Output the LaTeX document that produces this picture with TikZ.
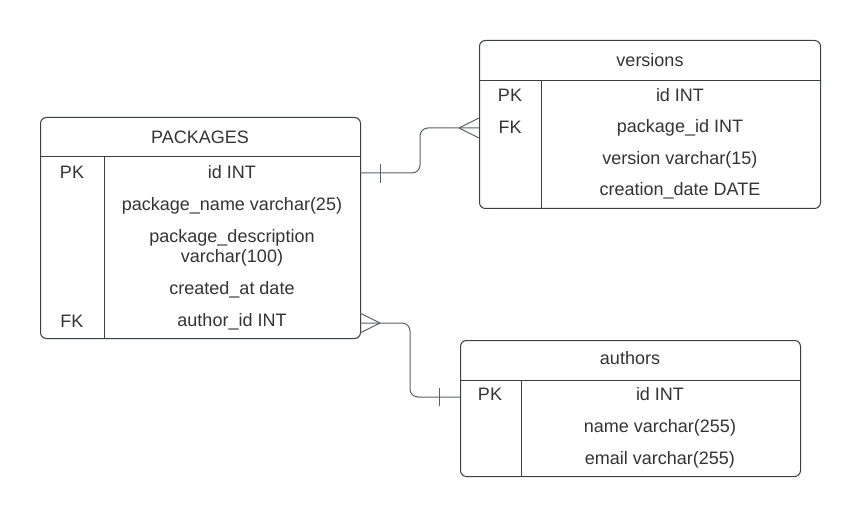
\documentclass[tikz,border=0pt]{standalone}
\usepackage{fontspec}
\setmainfont{Liberation Sans}
\begin{document}
\begin{tikzpicture}[x=1pt,y=-1pt,
  tbl/.style={draw=linec, line width=1pt, rounded corners=6pt},
  sep/.style={draw=linec, line width=1pt},
  txt/.style={text=textc, font=\fontsize{18}{20}\selectfont, inner sep=0pt, align=center, yshift=-1.5pt},
  conn/.style={draw=connc, line width=1pt, rounded corners=8pt},
  tickmark/.style={draw=connc, line width=1pt}]
\definecolor{linec}{HTML}{3A3F48}
\definecolor{textc}{HTML}{333333}
\definecolor{connc}{HTML}{5A6069}
\useasboundingbox (0,0) rectangle (860,516);
% PACKAGES
\node[tbl, minimum width=320pt, minimum height=221pt, anchor=north west] (pk) at (40,117) {};
\draw[sep] (40,157) -- (360,157);
\draw[sep] (104,157) -- (104,338);
\node[txt] (pkh) at (200,136) {PACKAGES};
\node[txt] (pk1a) at (72,171) {PK};
\node[txt] (pk1b) at (232,171) {id INT};
\node[txt] (pk2b) at (232,204) {package\_name varchar(25)};
\node[txt] (pk3b) at (232,246) {package\_description\\varchar(100)};
\node[txt] (pk4b) at (232,288) {created\_at date};
\node[txt] (pk5a) at (72,320) {FK};
\node[txt] (pk5b) at (232,320) {author\_id INT};
% versions
\node[tbl, minimum width=341pt, minimum height=168pt, anchor=north west] (vr) at (479,40) {};
\draw[sep] (479,81) -- (820,81);
\draw[sep] (541,81) -- (541,208);
\node[txt] (vrh) at (650,59) {versions};
\node[txt] (vr1a) at (510,94) {PK};
\node[txt] (vr1b) at (680,94) {id INT};
\node[txt] (vr2a) at (510,126) {FK};
\node[txt] (vr2b) at (680,126) {package\_id INT};
\node[txt] (vr3b) at (680,158) {version varchar(15)};
\node[txt] (vr4b) at (680,189) {creation\_date DATE};
% authors
\node[tbl, minimum width=340pt, minimum height=136pt, anchor=north west] (au) at (460,340) {};
\draw[sep] (460,380) -- (800,380);
\draw[sep] (521,380) -- (521,476);
\node[txt] (auh) at (630,357) {authors};
\node[txt] (au1a) at (490,393) {PK};
\node[txt] (au1b) at (660,393) {id INT};
\node[txt] (au2b) at (660,426) {name varchar(255)};
\node[txt] (au3b) at (660,458) {email varchar(255)};
% connectors
\coordinate (c1s) at (360,173);
\coordinate (c1e) at (479,128);
\draw[conn] (c1s) -- (420,173) -- (420,128) -- (c1e);
\draw[tickmark] (380,164) -- (380,183);
\draw[tickmark] (459,128) -- (479,118);
\draw[tickmark] (459,128) -- (479,138);
\coordinate (c2s) at (360,323);
\coordinate (c2e) at (460,397);
\draw[conn] (c2s) -- (410,323) -- (410,397) -- (c2e);
\draw[tickmark] (380,323) -- (360,313);
\draw[tickmark] (380,323) -- (360,333);
\draw[tickmark] (439,388) -- (439,406);
\end{tikzpicture}
\end{document}
